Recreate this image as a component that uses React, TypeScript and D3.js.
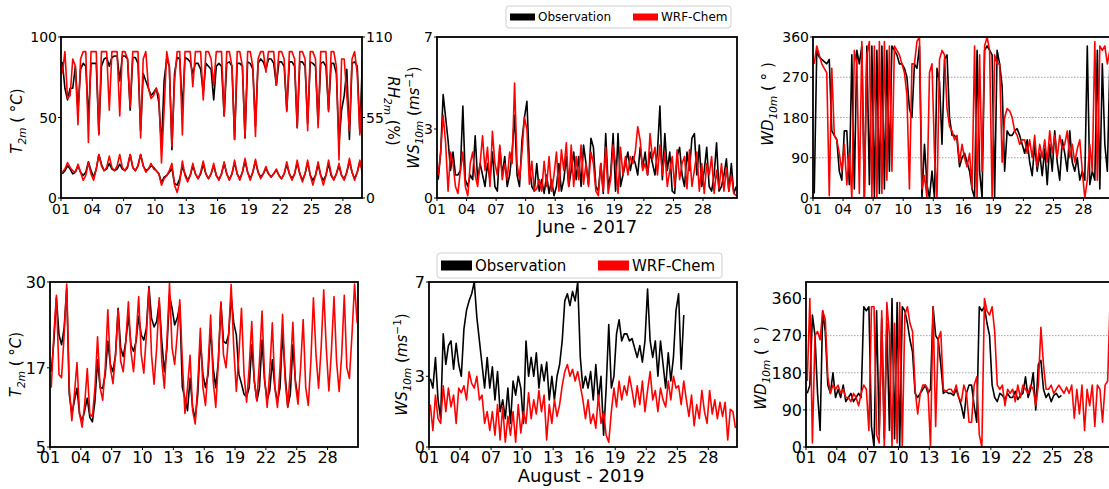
import React from 'react';
import * as d3 from 'd3';

// 6-hourly samples (03, 09, 15, 21 h), one row of four per day, day 01 = t 0
const STEP = 0.25;
const OFFSET = 0.125;
const DAY_TICKS = [1, 4, 7, 10, 13, 16, 19, 22, 25, 28];

// ---- June 2017 ----
const junRhObs = [
  93,75,67,75, 75,90,60,88, 92,90,54,92, 92,92,44,90, 95,96,90,96, 97,97,80,97, 97,95,60,96, 96,92,46,85,
  80,75,70,72, 75,65,35,80, 95,90,33,85, 96,95,60,96, 95,93,85,92, 92,88,72,92, 90,88,67,90, 92,90,56,92,
  93,90,40,92, 92,90,41,93, 92,88,49,92, 95,93,88,95, 95,92,77,93, 93,90,60,93, 93,90,48,93, 93,90,51,93,
  92,90,51,92, 93,90,60,92, 92,85,37,60, 70,88,40,92, 93,90,45,96,
];
const junRhMod = [
  85,100,68,70, 95,90,50,95, 100,100,38,100, 100,100,43,100, 100,100,60,100, 100,100,56,100, 100,95,62,100, 100,100,41,95,
  100,75,68,70, 75,70,24,60, 100,90,35,80, 100,100,43,100, 100,100,76,100, 100,100,67,100, 100,95,77,100, 100,100,56,100,
  100,90,40,100, 100,90,41,100, 100,90,42,95, 100,100,86,100, 100,100,77,100, 100,95,59,100, 100,95,48,100, 100,95,46,100,
  100,95,48,100, 100,100,59,100, 100,90,26,95, 95,70,46,95, 100,85,43,80,
];
const junT2mObs = [
  15,17,20,18, 15,16,20,16, 14,16,22.5,17, 13,18,27,21, 17,18,21.5,18, 17,18,21,18, 17,19,27,19, 17,20,27,20,
  17,18,20,19, 17,15,9.5,13, 14,16,18.4,9, 8,12,19.5,15, 11,14,20,15, 12,15,21,15, 12,15,20,14, 11.5,15,21.5,15,
  11.5,15,22,15, 12,16,23,16, 12,16,23,16, 13,15,18.5,15, 13,15,17.5,14, 12,15,21,15, 12,15,22,15, 11,15,22,14,
  11,14,21,14, 11,14,21.5,14, 11.5,15,20,14, 12,16,23,16, 12,16,22.5,17,
];
const junT2mMod = [
  16,18,22,19, 17,16,21,16, 11,14,22,15, 11,18,27,20, 17,19,26,19, 17,20,27,19, 17,20,27,19, 17,20,27,20,
  16,18,21.5,18, 17,15,8,12, 14,17,21.5,8, 3.5,10,23,14, 10,14,21.5,15, 12,16,23,15, 12,15,21.5,14, 11,15,22.5,15,
  11,15,23.5,15, 11,16,24.6,16, 11,16,24,16, 12,15,19.5,15, 13,15,18,14, 12,15,22.5,15, 11,15,23.5,15, 10,15,23.5,14,
  8,14,22.5,14, 8,14,23.5,15, 11,15,21.5,14, 11,16,24.6,16, 11,16,23.5,15,
];
const junWsObs = [
  0.8,2.0,4.5,3.5, 2.5,1.2,2.0,1.0, 1.0,1.2,4.0,0.8, 0.5,1.0,0.8,2.7, 0.8,1.5,1.0,0.5, 1.5,0.8,2.0,0.5,
  0.3,2.2,1.0,1.8, 0.5,1.0,2.0,3.6, 1.0,0.5,2.5,3.5, 4.2,1.5,0.5,0.3, 1.5,0.3,0.8,0.2, 1.0,0.2,0.8,0.1,
  0.5,1.5,0.3,0.8, 1.8,0.5,1.2,2.0, 0.8,1.8,0.5,2.3, 1.5,0.6,2.6,2.2, 0.5,0.3,1.5,0.2, 2.8,0.5,1.0,2.8,
  0.3,2.8,0.5,1.0, 1.5,2.0,1.2,1.8, 1.5,1.0,2.2,1.3, 2.0,1.0,2.0,1.5, 1.0,2.0,4.0,0.8, 2.8,1.2,2.0,0.3,
  0.2,1.8,2.2,1.0, 0.5,2.0,1.2,2.6, 2.8,1.0,2.3,0.5, 1.2,2.2,0.5,0.3, 1.0,2.4,0.3,0.5, 1.0,1.7,0.3,1.5, 0.2,0.5,
];
const junWsMod = [
  1.0,2.0,3.6,2.4, 0.3,2.0,1.5,0.5, 0.2,1.2,2.0,0.5, 0.1,1.5,2.0,1.0, 0.5,1.5,2.7,1.2, 2.2,0.5,2.9,1.5,
  1.0,2.3,0.8,1.5, 0.8,2.0,1.5,5.0, 1.5,0.8,2.0,3.5, 3.0,0.6,1.6,0.3, 0.4,0.8,0.3,1.6, 0.5,1.8,0.3,1.0,
  2.0,0.3,2.1,1.2, 2.4,0.5,2.3,0.5, 1.8,0.8,2.3,0.6, 1.5,0.5,2.0,1.5, 0.3,0.1,1.5,0.3, 2.2,0.2,0.8,2.3,
  1.5,0.2,2.2,1.0, 1.8,1.0,1.8,1.5, 2.0,3.1,2.5,1.2, 1.5,1.0,2.8,1.7, 2.2,1.0,2.3,1.0, 2.0,0.5,1.2,1.8,
  0.5,2.1,0.8,1.5, 1.8,0.4,2.1,0.5, 1.2,2.0,0.3,1.5, 0.2,1.5,1.0,1.8, 0.2,1.2,0.4,1.5, 0.3,1.3,0.3,1.0, 0.2,0.1,
];
const junWdObs = [
  10,330,315,310, 305,300,310,150, 140,130,60,40, 150,150,30,320, 20,330,300,340, 0,340,30,340,
  0,330,10,340, 20,330,60,340, 330,320,300,300, 290,270,200,180, 300,290,340,0, 120,30,0,60,
  0,290,260,120, 310,320,180,140, 140,130,70,90, 100,80,60,20, 0,330,60,0, 330,340,330,320,
  0,330,300,250, 60,150,140,140, 150,155,140,120, 100,130,80,50, 120,60,100,50, 110,30,120,60,
  150,80,40,130, 100,60,150,80, 60,90,40,60, 40,340,30,60, 40,330,20,300, 120,60,300,
];
const junWdMod = [
  300,340,320,300, 290,280,5,290, 140,130,100,60, 120,30,100,0, 330,300,10,350, 0,320,350,0,
  340,0,350,10, 350,40,340,60, 340,330,320,300, 280,230,20,300, 300,350,360,20, 50,0,280,300,
  100,0,310,330, 320,200,160,150, 130,140,80,120, 90,70,100,20, 340,0,320,60, 340,360,330,0,
  320,300,300,80, 180,200,195,180, 150,140,120,130, 130,100,130,90, 140,70,120,90, 130,80,150,100,
  140,90,140,110, 120,150,90,120, 80,110,130,60, 0,40,120,60, 350,40,340,330, 340,300,330,
];

// ---- August 2019 ----
const augT2mObs = [
  16.4,21,27.6,22, 20.5,23,29,13, 10,12,13.9,10, 9,10.5,12.4,9.5, 8.8,12,18.2,14, 13.9,16,21,17.5,
  16.4,19,26,20, 18.7,21,25,20.5, 19.5,21,24.8,22, 21.2,23,29.3,24.5, 23.2,24,27,21, 16.4,20,28,26,
  23.5,24.5,26.5,14, 12.4,10.5,15.4,11, 9.3,13,21.2,16, 14,16,23,17, 14,18,26.8,21, 20.7,22,27.8,23.8,
  22,16,14.6,13, 12.6,14,20.5,15, 12,14,21.2,15, 12.1,13.5,18.2,14, 11.8,14,22.5,16, 11.1,13,20.5,15, 12.4,
];
const augT2mMod = [
  14,22,28,16, 15.5,22,29.7,14, 9,13,17.8,10, 8,11.5,16.9,10, 9.6,14,21.7,14, 12.1,17,25.8,17,
  14.6,19,25.8,18, 16.4,21,27,19.5, 16.4,21.5,27.8,19, 16.2,22,29.1,19, 14.5,20,27.6,18, 13.9,21,29.8,20,
  17.5,22,27.3,18, 10.1,14,18.9,10.5, 8.5,14.5,23,14, 11.3,17,25,15, 11,18,27,19, 17,22,29.6,20,
  13.4,19,26,16, 11.8,17,24,15, 12,18,25.6,15.5, 11,16.5,23.8,14, 11,17,25.1,15, 11,16.5,23.9,14.5,
  11.5,17,24.3,14, 11.3,18,27.6,19, 13.9,20,28.8,20, 13.5,19.5,27.8,18, 13.4,19,28,17, 15.4,22,29.7,23.8,
];
const augWsObs = [
  2.9,2.5,3.8,2.0, 1.2,4.8,3.5,4.3, 4.5,3.3,4.4,3.5, 3.0,5.0,5.8,6.2, 6.5,7.0,5.5,4.5, 3.5,2.5,3.8,2.5,
  3.4,2.0,3.2,1.5, 2.0,1.2,2.5,1.0, 2.8,2.2,3.0,2.5, 1.0,4.5,3.0,3.8, 3.0,4.0,2.5,3.5, 2.8,3.6,2.0,3.0,
  2.0,3.0,3.5,4.5, 6.2,6.5,6.0,6.6, 6.2,7.0,3.8,2.5, 3.0,2.5,3.2,2.0, 3.5,2.0,3.0,0.5, 2.5,5.2,2.5,3.0,
  4.8,5.4,4.5,4.8, 4.8,4.5,4.6,4.2, 3.8,4.3,3.6,4.5, 6.7,4.5,3.8,4.5, 3.0,4.5,3.5,2.5, 4.0,2.8,3.8,5.8,
  6.5,3.3,5.6,
];
const augWsMod = [
  1.8,0.7,2.2,1.2, 1.0,2.6,1.5,2.5, 1.7,2.2,1.0,2.5, 2.3,2.6,2.0,3.2, 2.7,2.5,3.0,2.0, 2.2,1.0,1.5,0.7,
  1.5,0.5,1.8,0.3, 1.7,0.2,1.3,0.5, 1.5,0.2,1.8,0.6, 1.5,1.0,2.3,1.2, 2.0,1.4,2.4,1.5, 2.2,0.3,1.8,1.0,
  2.0,1.3,1.8,2.6, 3.2,3.5,3.0,3.3, 2.8,3.2,2.6,2.0, 1.2,2.0,1.0,1.4, 0.8,2.2,1.0,1.5, 0.5,0.2,1.5,2.5,
  1.7,2.8,2.0,2.6, 2.2,3.0,2.4,1.7, 2.6,1.8,2.8,1.5, 2.4,3.2,2.0,2.4, 1.5,2.5,2.0,1.7, 2.8,2.0,3.0,2.5,
  2.6,1.8,2.8,2.0, 1.3,2.2,0.9,1.8, 1.2,2.4,1.5,1.0, 2.4,1.4,2.0,1.2, 1.9,1.3,1.9,0.3, 1.6,1.5,0.8,
];
const augWdObs = [
  130,150,320,270, 130,40,330,280, 150,130,180,120, 140,120,150,110, 120,130,110,120, 130,120,340,330,
  340,50,0,330, 30,310,20,300, 40,360,20,350, 0,340,330,300, 260,230,130,120, 130,140,150,130,
  140,340,270,260, 200,130,135,130, 130,125,140,120, 100,70,130,150, 150,100,60,340, 330,340,300,270,
  150,120,110,130, 125,115,130,120, 120,135,115,125, 130,170,120,140, 180,90,200,210, 140,120,130,110,
  125,130,120,125,
];
const augWdMod = [
  160,360,10,270, 280,260,330,310, 170,130,150,140, 150,130,140,120, 120,110,130,120, 100,130,150,140,
  40,340,340,30, 10,330,0,350, 270,0,300,10, 350,0,320,340, 300,280,140,80, 130,150,150,140,
  0,340,50,260, 280,140,135,140, 140,130,150,120, 110,150,130,60, 60,150,170,30, 0,360,330,320,
  340,280,150,140, 150,100,140,130, 140,110,150,120, 150,140,130,150, 140,100,150,290, 200,140,140,150,
  130,140,150,140, 130,145,130,150, 70,140,80,150, 40,140,100,150, 50,150,140,60, 150,160,360,
];

const FONT = 'DejaVu Sans, Verdana, sans-serif';
const OBS = '#000000';
const MOD = '#ff0000';

type Series = { values: number[]; color: string; right?: boolean };

interface PanelSpec {
  id: string;
  left: number; right: number; top: number; bottom: number;
  xMax: number;
  yDomain: [number, number];
  yTicks: number[];
  rDomain?: [number, number];
  rTicks?: number[];
  grid?: number[];
  series: Series[];
  fs: number;
  xlabDy: number;
  ylabel: React.ReactNode;
  ylabelX: number;
  ylabelY?: number;
  rlabel?: React.ReactNode;
  rlabelX?: number;
  rlabelY?: number;
}

const subLabel = (main: string, sub: string, rest: React.ReactNode, fs: number) => (
  <>
    <tspan fontStyle="italic">{main}</tspan>
    <tspan fontStyle="italic" fontSize={fs * 0.7} dy={fs * 0.25}>{sub}</tspan>
    <tspan dy={-fs * 0.25}>{' '}</tspan>
    {rest}
  </>
);

const degC = (
  <>
    <tspan>{'( °'}</tspan>
    <tspan fontStyle="italic">C</tspan>
    <tspan>)</tspan>
  </>
);
const msUnit = (fs: number) => (
  <>
    <tspan>(</tspan>
    <tspan fontStyle="italic">ms</tspan>
    <tspan fontSize={fs * 0.7} dy={-fs * 0.4}>−1</tspan>
    <tspan dy={fs * 0.4}>)</tspan>
  </>
);

const Panel: React.FC<{ p: PanelSpec }> = ({ p }) => {
  const x = d3.scaleLinear().domain([0, p.xMax]).range([p.left, p.right]);
  const y = d3.scaleLinear().domain(p.yDomain).range([p.bottom, p.top]);
  const yr = p.rDomain ? d3.scaleLinear().domain(p.rDomain).range([p.bottom, p.top]) : null;
  const mkLine = (scale: d3.ScaleLinear<number, number>) =>
    d3.line<number>().x((_, i) => x(i * STEP + OFFSET)).y((v) => scale(v));
  const cy = (p.top + p.bottom) / 2;
  const tickBase = p.bottom + p.xlabDy + p.fs * 0.75;

  return (
    <g>
      <defs>
        <clipPath id={`clip-${p.id}`}>
          <rect x={p.left} y={p.top} width={p.right - p.left} height={p.bottom - p.top} />
        </clipPath>
      </defs>
      {(p.grid || []).map((g) => (
        <line key={g} x1={p.left} x2={p.right} y1={y(g)} y2={y(g)}
          stroke="#8a8a8a" strokeWidth={0.8} strokeDasharray="1.5,1.5" />
      ))}
      <g clipPath={`url(#clip-${p.id})`}>
        {p.series.map((s, i) => (
          <path key={i} d={mkLine(s.right && yr ? yr : y)(s.values) || ''}
            fill="none" stroke={s.color} strokeWidth={1.6} strokeLinejoin="round" />
        ))}
      </g>
      <rect x={p.left} y={p.top} width={p.right - p.left} height={p.bottom - p.top}
        fill="none" stroke="#000" strokeWidth={1.8} />
      {DAY_TICKS.map((d) => (
        <g key={d}>
          <line x1={x(d - 1)} x2={x(d - 1)} y1={p.bottom} y2={p.bottom + 3} stroke="#000" />
          <text x={x(d - 1)} y={tickBase} textAnchor="middle" fontSize={p.fs}>
            {String(d).padStart(2, '0')}
          </text>
        </g>
      ))}
      {p.yTicks.map((t) => (
        <g key={t}>
          <line x1={p.left - 3} x2={p.left} y1={y(t)} y2={y(t)} stroke="#000" />
          <text x={p.left - 4} y={y(t)} dy="0.36em" textAnchor="end" fontSize={p.fs}>{t}</text>
        </g>
      ))}
      {yr && (p.rTicks || []).map((t) => (
        <g key={`r${t}`}>
          <line x1={p.right} x2={p.right + 3} y1={yr(t)} y2={yr(t)} stroke="#000" />
          <text x={p.right + 4} y={yr(t)} dy="0.36em" textAnchor="start" fontSize={p.fs}>{t}</text>
        </g>
      ))}
      <text transform={`translate(${p.ylabelX},${p.ylabelY ?? cy}) rotate(-90)`} textAnchor="middle" fontSize={15}>
        {p.ylabel}
      </text>
      {p.rlabel && (
        <text transform={`translate(${p.rlabelX},${p.rlabelY ?? cy}) rotate(90)`} textAnchor="middle" fontSize={15}>
          {p.rlabel}
        </text>
      )}
    </g>
  );
};

const Legend: React.FC<{ x: number; y: number; w: number; h: number; fs: number; hw: number; hh: number; gap: number }> =
  ({ x, y, w, h, fs, hw, hh, gap }) => {
    const mid = y + h / 2;
    return (
      <g>
        <rect x={x} y={y} width={w} height={h} rx={3} fill="#fff" fillOpacity={0.85} stroke="#d0d0d0" />
        <rect x={x + 4} y={mid - hh / 2} width={hw} height={hh} fill={OBS} />
        <text x={x + 7 + hw} y={mid} dy="0.36em" fontSize={fs}>Observation</text>
        <rect x={x + gap} y={mid - hh / 2} width={hw} height={hh} fill={MOD} />
        <text x={x + gap + hw + 3} y={mid} dy="0.36em" fontSize={fs}>WRF-Chem</text>
      </g>
    );
  };

const App: React.FC = () => {
  const top = { top: 37, bottom: 198, fs: 14, xlabDy: 5 };
  const bot = { top: 282, bottom: 447, fs: 16, xlabDy: 4 };

  const panels: PanelSpec[] = [
    {
      id: 'jt', left: 61, right: 362, ...top, xMax: 28.83,
      yDomain: [0, 100], yTicks: [0, 50, 100], rDomain: [0, 110], rTicks: [0, 55, 110],
      series: [
        { values: junRhObs, color: OBS, right: true },
        { values: junRhMod, color: MOD, right: true },
        { values: junT2mObs, color: OBS },
        { values: junT2mMod, color: MOD },
      ],
      ylabel: subLabel('T', '2m', degC, 15), ylabelX: 22, ylabelY: 121,
      rlabel: subLabel('RH', '2m', <tspan>(%)</tspan>, 15), rlabelX: 388, rlabelY: 111,
    },
    {
      id: 'jw', left: 437, right: 737, ...top, xMax: 30.45,
      yDomain: [0, 7], yTicks: [0, 3, 7],
      series: [{ values: junWsObs, color: OBS }, { values: junWsMod, color: MOD }],
      ylabel: subLabel('WS', '10m', msUnit(15), 15), ylabelX: 419,
    },
    {
      id: 'jd', left: 813, right: 1115, ...top, xMax: 30.14,
      yDomain: [0, 360], yTicks: [0, 90, 180, 270, 360], grid: [90, 180, 270],
      series: [{ values: junWdObs, color: OBS }, { values: junWdMod, color: MOD }],
      ylabel: subLabel('WD', '10m', <tspan>{'( ° )'}</tspan>, 15), ylabelX: 773, ylabelY: 104,
    },
    {
      id: 'at', left: 50, right: 358, ...bot, xMax: 29.96,
      yDomain: [5, 30], yTicks: [5, 17, 30],
      series: [{ values: augT2mObs, color: OBS }, { values: augT2mMod, color: MOD }],
      ylabel: subLabel('T', '2m', degC, 15), ylabelX: 21,
    },
    {
      id: 'aw', left: 429, right: 737, ...bot, xMax: 29.77,
      yDomain: [0, 7], yTicks: [0, 3, 7],
      series: [{ values: augWsObs, color: OBS }, { values: augWsMod, color: MOD }],
      ylabel: subLabel('WS', '10m', msUnit(15), 15), ylabelX: 407,
    },
    {
      id: 'ad', left: 806, right: 1115, ...bot, xMax: 30.09,
      yDomain: [0, 400], yTicks: [0, 90, 180, 270, 360], grid: [90, 180, 270],
      series: [{ values: augWdObs, color: OBS }, { values: augWdMod, color: MOD }],
      ylabel: subLabel('WD', '10m', <tspan>{'( ° )'}</tspan>, 15), ylabelX: 766, ylabelY: 368,
    },
  ];

  return (
    <svg width={1109} height={489} style={{ position: 'absolute', left: 0, top: 0, background: '#fff' }}
      fontFamily={FONT} fill="#000">
      {panels.map((p) => <Panel key={p.id} p={p} />)}
      <text x={587} y={233} textAnchor="middle" fontSize={17.5}>June - 2017</text>
      <text x={581} y={482} textAnchor="middle" fontSize={18}>August - 2019</text>
      <Legend x={506} y={6} w={225} h={22} fs={12} hw={25} hh={7} gap={127} />
      <Legend x={437} y={253} w={285} h={25} fs={15} hw={31} hh={10} gap={161} />
    </svg>
  );
};

export default App;
